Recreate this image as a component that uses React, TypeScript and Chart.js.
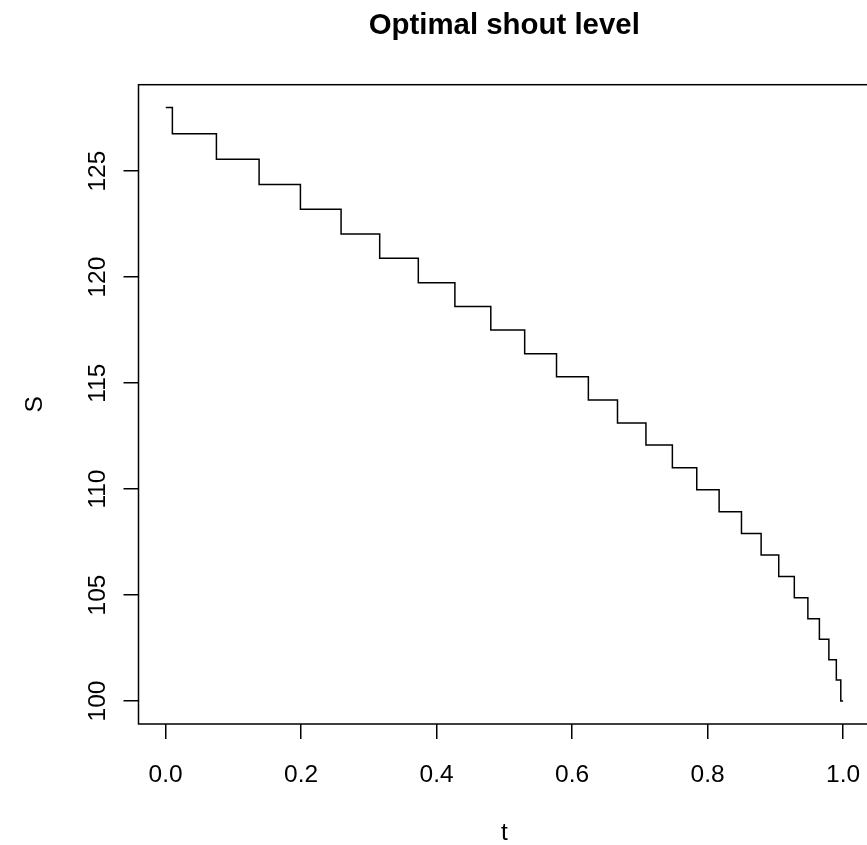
import React, { useEffect, useRef } from "react";
import { Chart, registerables } from "chart.js";

Chart.register(...registerables);

// Times at which each shout level begins, and the levels themselves
const stepTimes = [
  0.0003, 0.01, 0.075, 0.138, 0.199, 0.259, 0.316, 0.373, 0.427, 0.48, 0.53,
  0.577, 0.624, 0.667, 0.709, 0.748, 0.784, 0.817, 0.85, 0.879, 0.905, 0.928,
  0.948, 0.965, 0.979, 0.99, 0.9966, 1.0,
];
const shoutLevels = [
  128.0, 126.77, 125.56, 124.37, 123.2, 122.04, 120.89, 119.74, 118.61, 117.51,
  116.39, 115.3, 114.2, 113.12, 112.08, 111.01, 109.97, 108.93, 107.9, 106.89,
  105.88, 104.87, 103.88, 102.91, 101.95, 100.99, 100.0, 100.0,
];
const xTickValues = [0, 0.2, 0.4, 0.6, 0.8, 1.0];
const xTickLabels = ["0.0", "0.2", "0.4", "0.6", "0.8", "1.0"];
const yTickValues = [100, 105, 110, 115, 120, 125];
const yTickLabels = ["100", "105", "110", "115", "120", "125"];
const titleText = "Optimal shout level";
const xTitle = "t";
const yTitle = "S";

const FONT = "'Liberation Sans', Arial, Helvetica, sans-serif";

export default function App() {
  const ref = useRef<HTMLCanvasElement | null>(null);

  useEffect(() => {
    document.body.style.margin = "0";
    document.body.style.overflow = "hidden";
    const canvas = ref.current;
    if (!canvas) return;

    const decor = {
      id: "rdecor",
      afterDraw(chart: any) {
        const ctx = chart.ctx;
        const a = chart.chartArea;
        const xs = chart.scales.x;
        const ys = chart.scales.y;
        ctx.save();
        // box
        ctx.strokeStyle = "#000";
        ctx.lineWidth = 1.5;
        ctx.strokeRect(a.left, a.top, a.right - a.left, a.bottom - a.top);
        ctx.fillStyle = "#000";
        // title
        ctx.font = `bold 29.4px ${FONT}`;
        ctx.textAlign = "center";
        ctx.textBaseline = "alphabetic";
        ctx.fillText(titleText, (a.left + Math.min(a.right, 870)) / 2, 34);
        // x tick labels
        ctx.font = `24.5px ${FONT}`;
        xTickValues.forEach((v, i) => {
          ctx.fillText(xTickLabels[i], xs.getPixelForValue(v), 781.5);
        });
        // x title
        ctx.fillText(xTitle, (a.left + a.right) / 2, 840);
        // y tick labels rotated
        yTickValues.forEach((v, i) => {
          ctx.save();
          ctx.translate(105, ys.getPixelForValue(v));
          ctx.rotate(-Math.PI / 2);
          ctx.textAlign = "center";
          ctx.textBaseline = "alphabetic";
          ctx.fillText(yTickLabels[i], 0, 0);
          ctx.restore();
        });
        // y title
        ctx.save();
        ctx.translate(42, (a.top + a.bottom) / 2);
        ctx.rotate(-Math.PI / 2);
        ctx.textAlign = "center";
        ctx.fillText(yTitle, 0, 0);
        ctx.restore();
        ctx.restore();
      },
    };

    const chart = new Chart(canvas, {
      type: "line",
      data: {
        datasets: [
          {
            data: stepTimes.map((t, i) => ({ x: t, y: shoutLevels[i] })),
            borderColor: "#000",
            borderWidth: 1.5,
            pointRadius: 0,
            fill: false,
            stepped: "before",
            tension: 0,
          },
        ],
      },
      options: {
        animation: false,
        responsive: false,
        devicePixelRatio: 1,
        layout: { padding: { left: 0, top: 84.7, right: 9.8, bottom: 0 } },
        plugins: {
          legend: { display: false },
          tooltip: { enabled: false },
          title: { display: false },
        },
        scales: {
          x: {
            type: "linear",
            min: -0.04,
            max: 1.04,
            afterBuildTicks: (s: any) => {
              s.ticks = xTickValues.map((v) => ({ value: v }));
            },
            afterFit: (s: any) => {
              s.height = 121;
            },
            ticks: { display: false },
            grid: {
              drawOnChartArea: false,
              drawTicks: true,
              tickLength: 15,
              color: "#000",
              lineWidth: 1.5,
            },
            border: { display: false },
          },
          y: {
            type: "linear",
            min: 98.915,
            max: 129.08,
            afterBuildTicks: (s: any) => {
              s.ticks = yTickValues.map((v) => ({ value: v }));
            },
            afterFit: (s: any) => {
              s.width = 138.5;
            },
            ticks: { display: false },
            grid: {
              drawOnChartArea: false,
              drawTicks: true,
              tickLength: 15,
              color: "#000",
              lineWidth: 1.5,
            },
            border: { display: false },
          },
        },
      },
      plugins: [decor],
    });
    return () => chart.destroy();
  }, []);

  return (
    <div style={{ width: 867, height: 845, overflow: "hidden", background: "#fff" }}>
      <canvas ref={ref} width={880} height={845} style={{ width: 880, height: 845, display: "block" }} />
    </div>
  );
}
